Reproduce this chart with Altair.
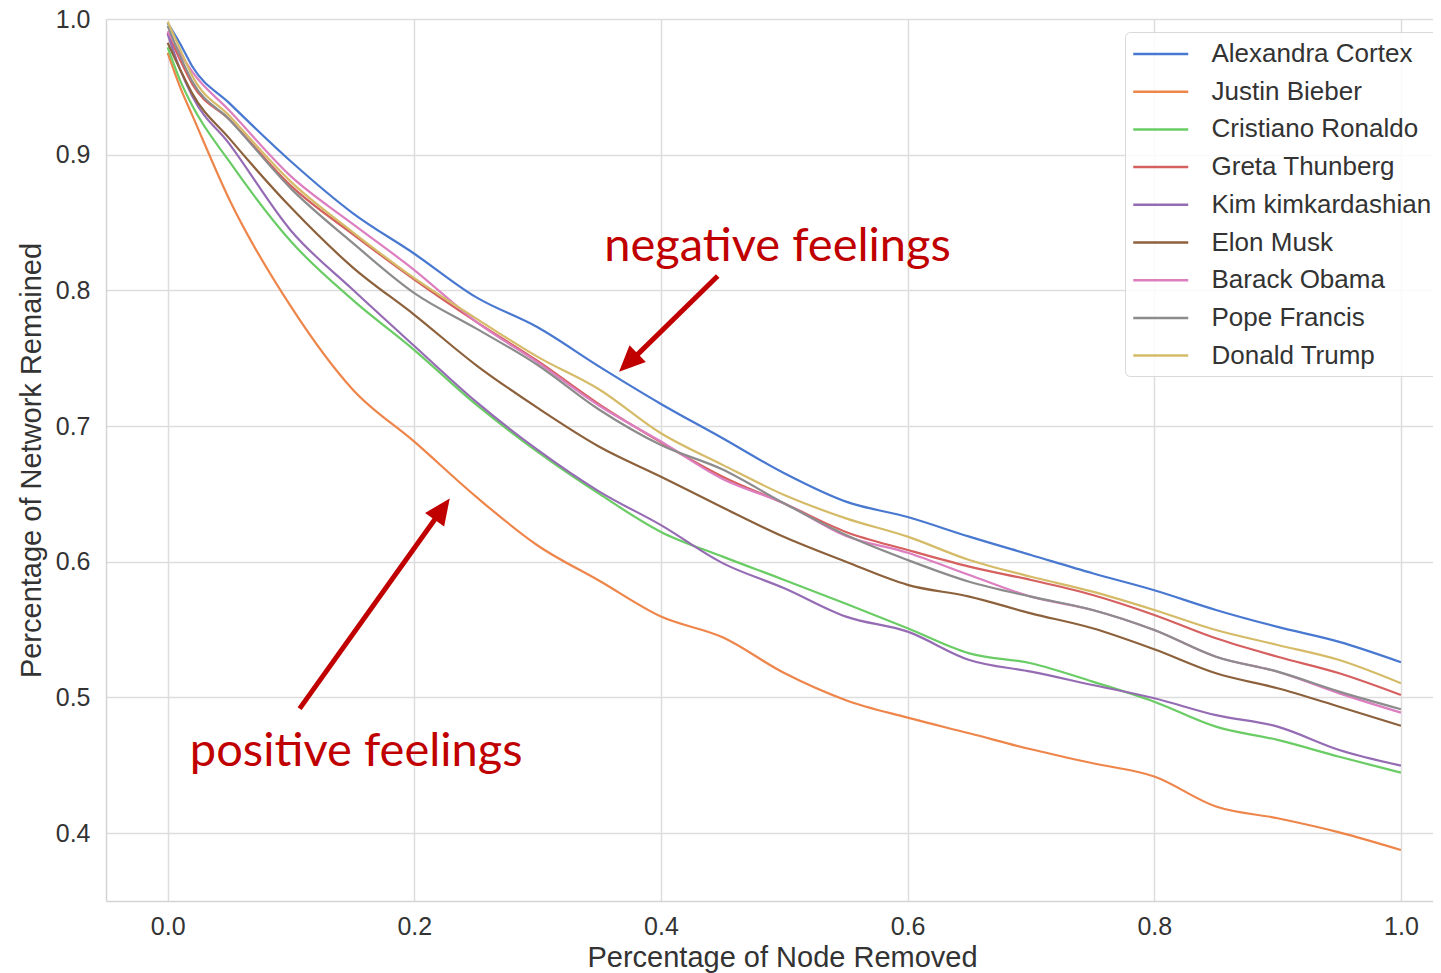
import altair as alt
import pandas as pd

# ---------------- data ----------------
x_vals = [0.0, 0.01, 0.02, 0.05, 0.1, 0.15, 0.2, 0.25, 0.3, 0.35, 0.4, 0.45, 0.5,
          0.55, 0.6, 0.65, 0.7, 0.75, 0.8, 0.85, 0.9, 0.95, 1.0]

names = ["Alexandra Cortex", "Justin Bieber", "Cristiano Ronaldo", "Greta Thunberg",
         "Kim kimkardashian", "Elon Musk", "Barack Obama", "Pope Francis", "Donald Trump"]

colors = ["#4878d0", "#ee854a", "#6acc64", "#d65f5f", "#956cb4",
          "#8c613c", "#dc7ec0", "#8c8c8c", "#d5bb67"]

alexandra_cortex = [0.997, 0.982, 0.965, 0.938, 0.895, 0.857, 0.827, 0.795, 0.7728, 0.7438, 0.7163, 0.691,
                    0.6652, 0.6443, 0.633, 0.6185, 0.605, 0.5915, 0.579, 0.5645, 0.552, 0.541, 0.526]
justin_bieber = [0.975, 0.950, 0.929, 0.867, 0.788, 0.727, 0.6885, 0.648, 0.612, 0.586, 0.5596, 0.5443,
                 0.518, 0.498, 0.4851, 0.4736, 0.4618, 0.4515, 0.4417, 0.4196, 0.411, 0.4006, 0.3876]
cristiano_ronaldo = [0.979, 0.955, 0.936, 0.895, 0.836, 0.793, 0.756, 0.716, 0.681, 0.650, 0.622, 0.6038,
                     0.5866, 0.569, 0.551, 0.5325, 0.5252, 0.5117, 0.4969, 0.4785, 0.4687, 0.4563, 0.4446]
greta_thunberg = [0.990, 0.970, 0.952, 0.926, 0.877, 0.8415, 0.808, 0.777, 0.748, 0.716, 0.688, 0.6627,
                  0.643, 0.622, 0.6087, 0.5964, 0.5866, 0.5755, 0.5608, 0.5436, 0.530, 0.5178, 0.5018]
kim_kimkardashian = [0.989, 0.963, 0.943, 0.908, 0.844, 0.8006, 0.759, 0.718, 0.6824, 0.6517, 0.627, 0.599,
                     0.5805, 0.5596, 0.5485, 0.5276, 0.519, 0.5092, 0.4994, 0.487, 0.4785, 0.4613, 0.4498]
elon_musk = [0.9825, 0.963, 0.945, 0.912, 0.861, 0.817, 0.782, 0.745, 0.7134, 0.6848, 0.6627, 0.640,
             0.6182, 0.600, 0.583, 0.5743, 0.562, 0.551, 0.5355, 0.5178, 0.5068, 0.4932, 0.4792]
barack_obama = [0.991, 0.975, 0.961, 0.9325, 0.884, 0.849, 0.815, 0.777, 0.747, 0.715, 0.6886, 0.661,
                0.643, 0.619, 0.6067, 0.5903, 0.5743, 0.5645, 0.5497, 0.530, 0.519, 0.503, 0.4888]
pope_francis = [0.995, 0.973, 0.954, 0.926, 0.875, 0.835, 0.798, 0.772, 0.745, 0.712, 0.686, 0.668,
                0.643, 0.6197, 0.6013, 0.5853, 0.5743, 0.5645, 0.5497, 0.530, 0.519, 0.5043, 0.4913]
donald_trump = [0.998, 0.978, 0.958, 0.9287, 0.880, 0.843, 0.809, 0.7794, 0.751, 0.727, 0.6947, 0.6714,
                0.6492, 0.632, 0.6185, 0.6013, 0.589, 0.578, 0.5645, 0.5497, 0.5387, 0.5276, 0.5105]

series_values = [alexandra_cortex, justin_bieber, cristiano_ronaldo, greta_thunberg,
                 kim_kimkardashian, elon_musk, barack_obama, pope_francis, donald_trump]

x_ticks = [0.0, 0.2, 0.4, 0.6, 0.8, 1.0]
y_ticks = [0.4, 0.5, 0.6, 0.7, 0.8, 0.9, 1.0]

# annotations (data coordinates)
note_labels = ["negative feelings", "positive feelings"]
note_x = [0.354, 0.018]
note_y = [0.8217, 0.4495]

arrow_tail_x = [0.446, 0.107]
arrow_tail_y = [0.8106, 0.4918]
arrow_shaft_end_x = [0.379, 0.2183]
arrow_shaft_end_y = [0.751, 0.6334]
arrow_tip_x = [0.366, 0.2287]
arrow_tip_y = [0.740, 0.6466]
arrow_angle = [225.8, 35.5]

# ---------------- tables ----------------
rows = []
for n, vals in zip(names, series_values):
    for xv, yv in zip(x_vals, vals):
        rows.append({"x": xv, "y": yv, "name": n})
df = pd.DataFrame(rows)

df_notes = pd.DataFrame({"x": note_x, "y": note_y, "label": note_labels})
df_shaft = pd.DataFrame({"x": arrow_tail_x, "y": arrow_tail_y,
                         "x2": arrow_shaft_end_x, "y2": arrow_shaft_end_y})
df_head = pd.DataFrame({"x": arrow_tip_x, "y": arrow_tip_y, "angle": arrow_angle})

FONT = "Liberation Sans, Arial, Helvetica, sans-serif"
RED = "#C00000"
FRAME = "#d4d4d4"

x_scale = alt.Scale(domain=[-0.05, 1.026], nice=False, zero=False)
y_scale = alt.Scale(domain=[0.35, 1.0], nice=False, zero=False)
x_axis = alt.Axis(values=x_ticks, format=".1f", title="Percentage of Node Removed",
                  titleBaseline="alphabetic", titleY=65, titleX=676)
y_axis = alt.Axis(values=y_ticks, format=".1f", title="Percentage of Network Remained")

X = alt.X("x:Q", scale=x_scale, axis=x_axis)
Y = alt.Y("y:Q", scale=y_scale, axis=y_axis)

lines = alt.Chart(df).mark_line(strokeWidth=2.2, clip=True, interpolate="monotone").encode(
    x=X, y=Y,
    color=alt.Color(
        "name:N",
        sort=names,
        scale=alt.Scale(domain=names, range=colors),
        legend=alt.Legend(
            title=None, orient="none", legendX=1019, legendY=13,
            symbolType="M-1,0H3", symbolSize=756, symbolStrokeWidth=2.5,
            labelFont=FONT, labelFontSize=26, labelColor="#333333", labelLimit=0,
            labelOffset=49.5, rowPadding=9.7, padding=7,
            fillColor="rgba(255,255,255,0.85)", strokeColor="#d9d9d9",
            cornerRadius=5,
        ),
    ),
)

shafts = alt.Chart(df_shaft).mark_rule(strokeWidth=5, color=RED).encode(
    x=X, y=Y, x2="x2:Q", y2="y2:Q"
)

heads = alt.Chart(df_head).mark_point(
    shape="M0,0L-0.9,2L0.9,2Z", filled=True, size=676, color=RED, opacity=1, strokeWidth=0
).encode(x=X, y=Y, angle=alt.Angle("angle:Q", scale=None))

notes = alt.Chart(df_notes).mark_text(
    align="left", baseline="alphabetic", font="Lato", fontSize=47, color=RED
).encode(x=X, y=Y, text="label:N")

chart = alt.layer(lines, shafts, heads, notes).properties(
    width=1327, height=882,
    autosize=alt.AutoSizeParams(type="none"),
    padding={"left": 98, "top": 11, "right": 0, "bottom": 72},
).configure_axis(
    labelFont=FONT, labelFontSize=25, labelColor="#333333",
    titleFont=FONT, titleFontSize=29, titleColor="#333333", titleFontWeight="normal",
    gridColor="#dddddd", gridWidth=1.5, domain=True, domainColor=FRAME, domainWidth=1.5,
    ticks=False, tickSize=0,
).configure_axisX(labelPadding=13).configure_axisY(
    labelPadding=16, titlePadding=9
).configure_view(strokeWidth=0)

chart.save("out.html", embed_options={"renderer": "svg", "actions": False})
